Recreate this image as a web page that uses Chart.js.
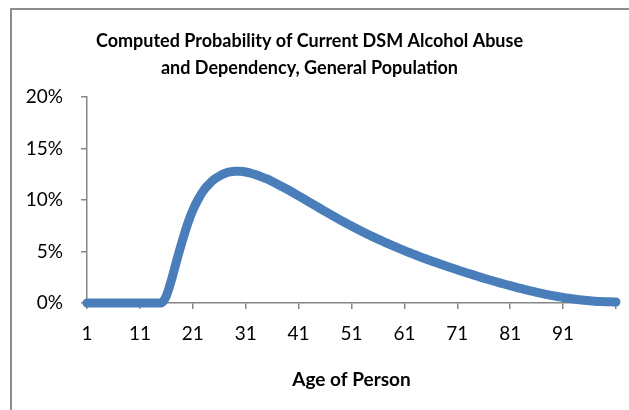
<!DOCTYPE html>
<html lang="en">
<head>
  <meta charset="UTF-8">
  <title>Computed Probability of Current DSM Alcohol Abuse and Dependency</title>
  <script src="https://cdn.jsdelivr.net/npm/chart.js"></script>
  <style>
    html, body {
      margin: 0;
      padding: 0;
      background: #fff;
      overflow: hidden;
    }
    .frame {
      position: absolute;
      left: 10px;
      top: 8px;
      width: 660px;
      height: 440px;
      border: 2px solid #8c8c8c;
    }
    #wrap {
      position: absolute;
      left: 0;
      top: 0;
      width: 629px;
      height: 410px;
    }
  </style>
</head>
<body>
  <div class="frame"></div>
  <div id="wrap">
    <canvas id="ageChart" width="629" height="410"></canvas>
  </div>

  <script>
    const titleLines = ['Computed Probability of Current DSM Alcohol Abuse', 'and Dependency, General Population'];
    const xTitle = 'Age of Person';

    // ages 1..101 (category axis of the original)
    const ages = Array.from({ length: 101 }, (_, i) => i + 1);

    // probability in percent, one value per age
    const probability = [
      0, 0, 0, 0, 0, 0, 0, 0, 0, 0,
      0, 0, 0, 0, 0, 0.7, 2.3, 4.2, 6.0, 7.65,
      9.0, 10.05, 10.9, 11.5, 11.98, 12.32, 12.57, 12.73, 12.8, 12.8,
      12.72, 12.6, 12.44, 12.25, 12.04, 11.8, 11.54, 11.27, 10.99, 10.7,
      10.4, 10.1, 9.8, 9.5, 9.2, 8.9, 8.6, 8.31, 8.02, 7.74,
      7.47, 7.2, 6.94, 6.69, 6.44, 6.2, 5.97, 5.74, 5.52, 5.3,
      5.09, 4.88, 4.68, 4.48, 4.29, 4.1, 3.92, 3.74, 3.56, 3.39,
      3.22, 3.05, 2.89, 2.73, 2.57, 2.41, 2.26, 2.11, 1.96, 1.82,
      1.68, 1.54, 1.41, 1.28, 1.16, 1.04, 0.93, 0.82, 0.72, 0.63,
      0.54, 0.46, 0.39, 0.32, 0.26, 0.21, 0.17, 0.14, 0.12, 0.11,
      0.1
    ];

    const xTickStep = 10;
    const lastLabel = 91;
    const yTickStep = 5;

    const axisGray = '#868686';
    const fontFamily = 'Lato, "Open Sans", sans-serif';

    const points = ages.map((a, i) => ({ x: a, y: probability[i] }));

    new Chart(document.getElementById('ageChart'), {
      type: 'line',
      data: {
        datasets: [{
          data: points,
          borderColor: '#4a7ebb',
          borderWidth: 9,
          borderCapStyle: 'round',
          borderJoinStyle: 'round',
          pointRadius: 0,
          fill: false,
          cubicInterpolationMode: 'monotone',
          clip: false
        }]
      },
      options: {
        responsive: false,
        animation: false,
        layout: { padding: { left: 0, right: 10, top: 0, bottom: 0 } },
        plugins: {
          legend: { display: false },
          tooltip: { enabled: false },
          title: {
            display: true,
            text: titleLines,
            color: '#000',
            font: { family: fontFamily, size: 18, weight: 'bold', lineHeight: 1.5 },
            padding: { top: 28, bottom: 15 }
          }
        },
        scales: {
          x: {
            type: 'linear',
            min: 1,
            max: 101,
            afterFit: s => { s.height = 107; },
            grid: { drawOnChartArea: false, drawTicks: true, tickLength: 6, color: axisGray, lineWidth: 1.5 },
            border: { display: true, color: axisGray, width: 1.5 },
            ticks: {
              stepSize: xTickStep,
              autoSkip: false,
              maxRotation: 0,
              padding: 13,
              color: '#000',
              font: { family: fontFamily, size: 19 },
              callback: v => (v <= lastLabel ? String(v) : '')
            },
            title: {
              display: true,
              text: xTitle,
              color: '#000',
              font: { family: fontFamily, size: 19, weight: 'bold', lineHeight: 1.2 },
              padding: { top: 0, bottom: 19 }
            }
          },
          y: {
            min: 0,
            max: 20,
            afterFit: s => { s.width = 87; },
            grid: { drawOnChartArea: false, drawTicks: true, tickLength: 6, color: axisGray, lineWidth: 1.5 },
            border: { display: true, color: axisGray, width: 1.5 },
            ticks: {
              stepSize: yTickStep,
              padding: 18,
              color: '#000',
              font: { family: fontFamily, size: 19 },
              callback: v => v + '%'
            }
          }
        }
      }
    });
  </script>
</body>
</html>
